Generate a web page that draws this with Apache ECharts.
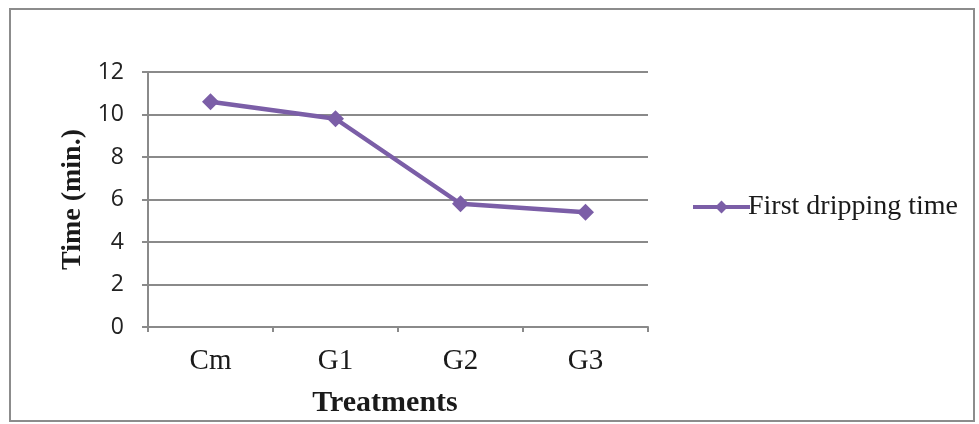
<!DOCTYPE html>
<html>
<head>
<meta charset="utf-8">
<script src="https://cdn.jsdelivr.net/npm/echarts@6/dist/echarts.min.js"></script>
<style>
  html, body { margin: 0; padding: 0; background: #fff; }
  #chart { width: 979px; height: 424px; }
</style>
</head>
<body>
<div id="chart"></div>
<script>
// Treatments and first dripping time (minutes)
const categories = ['Cm', 'G1', 'G2', 'G3'];
const firstDrippingTime = [10.6, 9.8, 5.8, 5.4];
const seriesName = 'First dripping time';

const chart = echarts.init(document.getElementById('chart'));

const serif = '"Liberation Serif", "Times New Roman", serif';
const sans = '"Open Sans", "Liberation Sans", sans-serif';
const gridColor = '#8a8a8a';
const purple = '#7b5ea7';

chart.setOption({
  backgroundColor: '#fff',
  animation: false,
  graphic: [{
    type: 'rect',
    shape: { x: 10, y: 9, width: 964, height: 412 },
    style: { fill: 'none', stroke: '#8c8c8c', lineWidth: 2 },
    silent: true
  }],
  grid: { left: 148, top: 72, width: 500, height: 255, containLabel: false },
  legend: {
    data: [seriesName],
    left: 686,
    top: 187,
    itemWidth: 57,
    itemHeight: 16,
    itemGap: 0,
    lineStyle: { width: 4, color: purple },
    itemStyle: { color: purple },
    textStyle: { fontFamily: serif, fontSize: 28, lineHeight: 30, color: '#1a1a1a', padding: [0, 0, 0, -7] }
  },
  xAxis: {
    type: 'category',
    data: categories,
    boundaryGap: true,
    name: 'Treatments',
    nameLocation: 'middle',
    nameGap: 61,
    nameTextStyle: { fontFamily: serif, fontSize: 30, fontWeight: 'bold', color: '#1a1a1a', padding: [0, 26, 0, 0] },
    axisLine: { show: true, lineStyle: { color: gridColor, width: 2 } },
    axisTick: { show: true, alignWithLabel: false, length: 5, lineStyle: { color: gridColor, width: 2 } },
    axisLabel: { fontFamily: serif, fontSize: 29, color: '#1a1a1a', margin: 20 },
    splitLine: { show: false }
  },
  yAxis: {
    type: 'value',
    min: 0,
    max: 12,
    interval: 2,
    name: 'Time (min.)',
    nameLocation: 'middle',
    nameGap: 59,
    nameRotate: 90,
    nameTextStyle: { fontFamily: serif, fontSize: 28, fontWeight: 'bold', color: '#1a1a1a' },
    axisLine: { show: true, lineStyle: { color: gridColor, width: 2 } },
    axisTick: { show: true, length: 6, lineStyle: { color: gridColor, width: 2 } },
    axisLabel: { fontFamily: sans, fontSize: 23, color: '#222', margin: 24 },
    splitLine: { show: true, lineStyle: { color: gridColor, width: 2 } }
  },
  series: [{
    name: seriesName,
    type: 'line',
    data: firstDrippingTime,
    symbol: 'diamond',
    symbolSize: 17,
    lineStyle: { color: purple, width: 4.5 },
    itemStyle: { color: purple }
  }]
});
</script>
</body>
</html>
